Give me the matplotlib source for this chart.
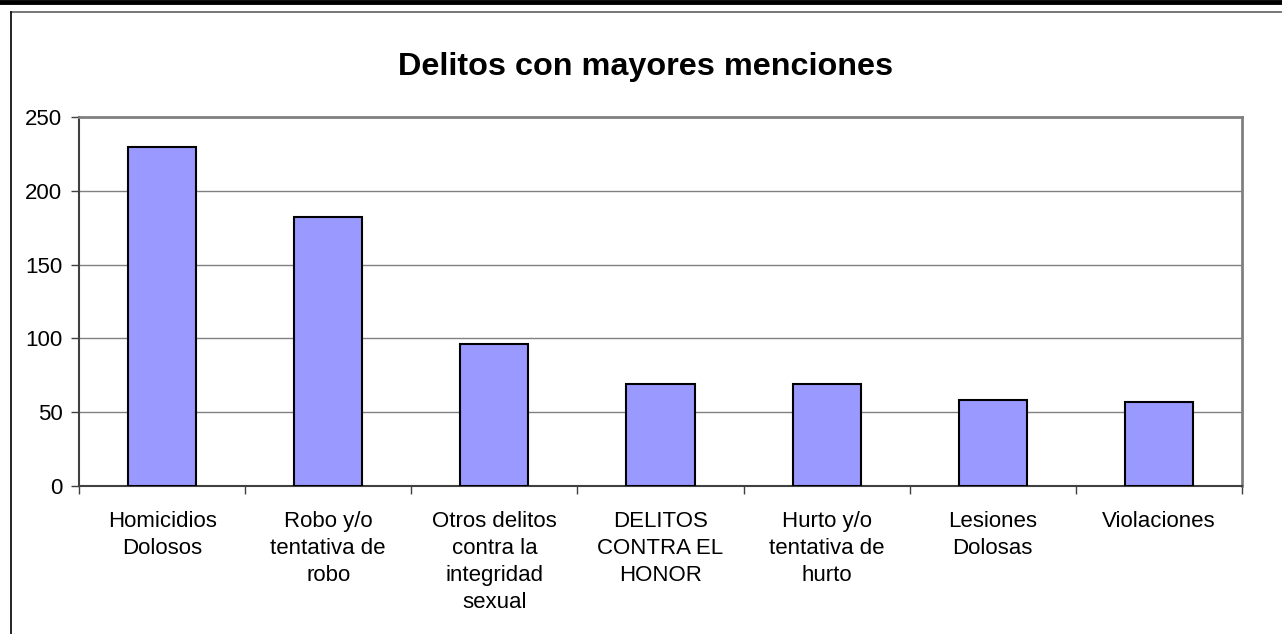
import matplotlib.pyplot as plt
import numpy as np
from matplotlib.lines import Line2D

plt.rcParams['font.family'] = ['Liberation Sans', 'DejaVu Sans']

categorias = ['Homicidios\nDolosos', 'Robo y/o\ntentativa de\nrobo',
              'Otros delitos\ncontra la\nintegridad\nsexual', 'DELITOS\nCONTRA EL\nHONOR',
              'Hurto y/o\ntentativa de\nhurto', 'Lesiones\nDolosas', 'Violaciones']
menciones = [230, 182, 96, 69, 69, 58, 57]
y_ticks = [0, 50, 100, 150, 200, 250]

W, H = 1282, 634
fig = plt.figure(figsize=(W / 100, H / 100), dpi=100)
ax = fig.add_axes([79 / W, 1 - 486 / H, (1242 - 79) / W, (486 - 117) / H])

x = np.arange(len(categorias))
ax.bar(x, menciones, width=0.41, color='#9999FF', edgecolor='black', linewidth=1.5, zorder=3)

ax.set_xlim(-0.5, len(categorias) - 0.5)
ax.set_ylim(0, 250)
ax.set_yticks(y_ticks)
ax.set_yticklabels([str(v) for v in y_ticks], fontsize=16)
ax.grid(axis='y', color='#808080', linewidth=1, zorder=0)

ax.set_xticks(x)
ax.set_xticklabels(categorias, fontsize=16, linespacing=1.38, va='top')
ax.tick_params(axis='x', length=0, pad=18)
ax.set_xticks(np.arange(len(categorias) + 1) - 0.5, minor=True)
ax.tick_params(axis='x', which='minor', length=6, width=1, color='#404040', direction='out')
ax.tick_params(axis='y', length=6, width=1, color='#404040', pad=6)

for s in ['top', 'right']:
    ax.spines[s].set_color('#808080')
    ax.spines[s].set_linewidth(2)
for s in ['left', 'bottom']:
    ax.spines[s].set_color('#404040')
    ax.spines[s].set_linewidth(1.5)

fig.text(645.5 / W, 1 - 75 / H, 'Delitos con mayores menciones', ha='center', va='baseline',
         fontsize=23.3, fontweight='bold')

# marco del área del gráfico
fig.add_artist(Line2D([0, 1], [1 - 2 / H, 1 - 2 / H], color='black', linewidth=3.5))
fig.add_artist(Line2D([10.5 / W, 1], [1 - 11.5 / H, 1 - 11.5 / H], color='#606060', linewidth=1.2))
fig.add_artist(Line2D([10.5 / W, 10.5 / W], [0, 1 - 11.5 / H], color='black', linewidth=1.2))

fig.savefig('out.png', dpi=100)
